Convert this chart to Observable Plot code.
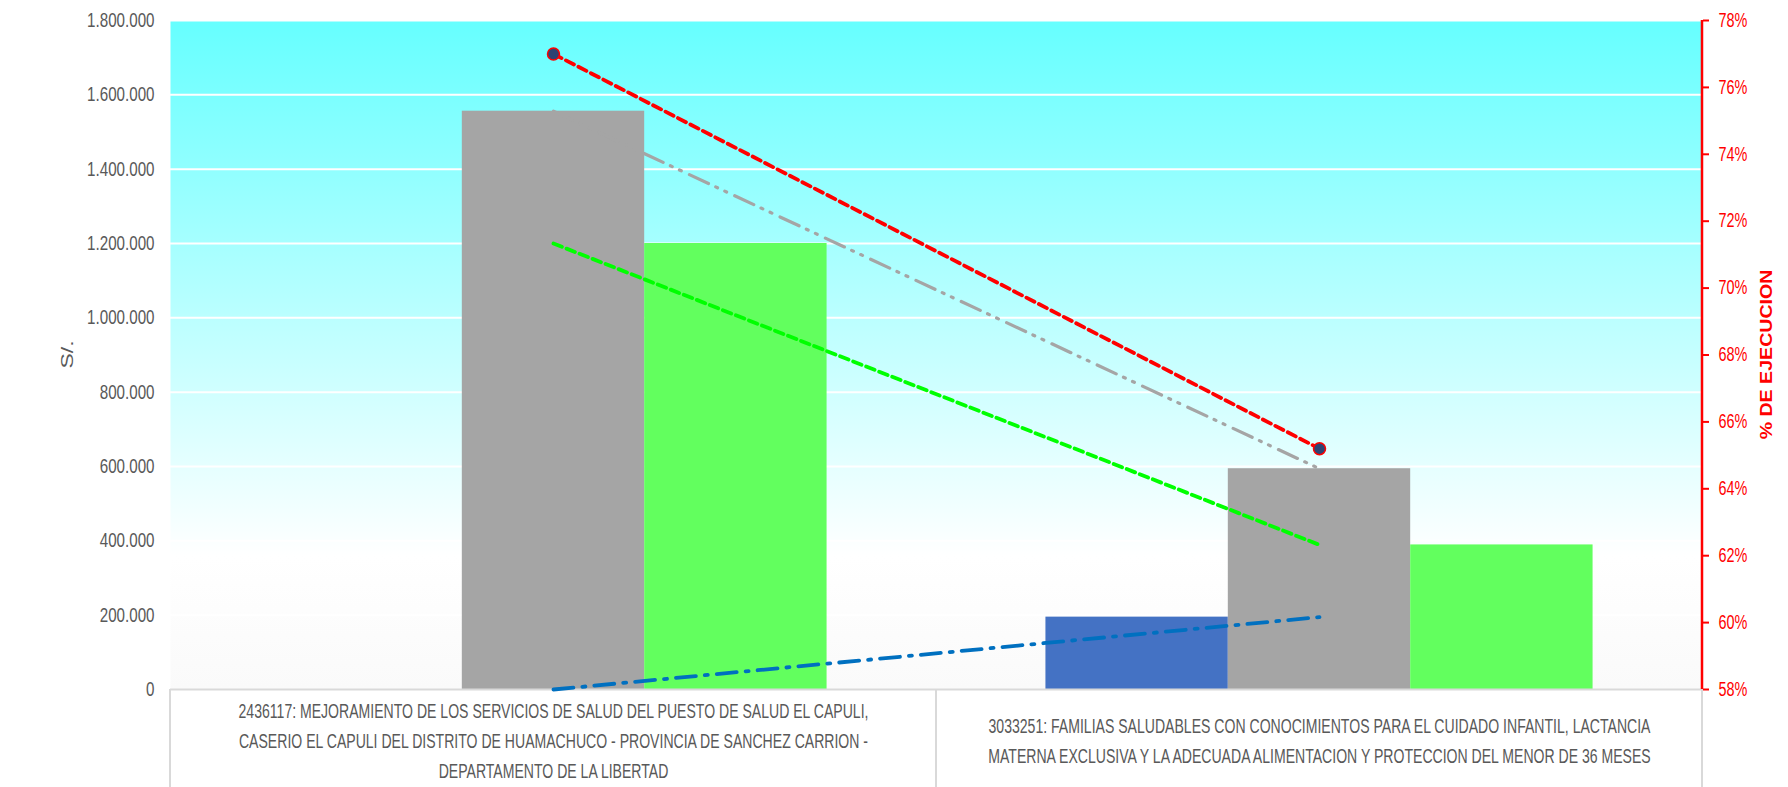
<!DOCTYPE html>
<html><head><meta charset="utf-8">
<script src="https://cdn.jsdelivr.net/npm/d3@7"></script>
<script src="https://cdn.jsdelivr.net/npm/@observablehq/plot@0.6"></script>
<style>
html,body{margin:0;padding:0;background:#fff;overflow:hidden}
svg{display:block}
</style></head><body><div id="chart"></div>
<script>
// ---- data ----
const categories = [
  "2436117: MEJORAMIENTO DE LOS SERVICIOS DE SALUD DEL PUESTO DE SALUD EL CAPULI,\nCASERIO EL CAPULI DEL DISTRITO DE HUAMACHUCO - PROVINCIA DE SANCHEZ CARRION -\nDEPARTAMENTO DE LA LIBERTAD",
  "3033251: FAMILIAS SALUDABLES CON CONOCIMIENTOS PARA EL CUIDADO INFANTIL, LACTANCIA\nMATERNA EXCLUSIVA Y LA ADECUADA ALIMENTACION Y PROTECCION DEL MENOR DE 36 MESES"
];
const series = ["PIA", "PIM", "DEVENGADO"];
const pia = [0, 194700];
const pim = [1556000, 594000];
const devengado = [1200000, 389000];
const avance = [77.0, 65.2];               // % de ejecucion
const yTicks = [0, 200000, 400000, 600000, 800000, 1000000, 1200000, 1400000, 1600000, 1800000];
const pctTicks = [58, 60, 62, 64, 66, 68, 70, 72, 74, 76, 78];
const leftTitle = "S/.";
const rightTitle = "% DE EJECUCION";

// ---- layout ----
const W = 1788, H = 787, ML = 170, MR = 86, MT = 20, MB = 98;
const yMax = yTicks[yTicks.length - 1];
const pctScale = d3.scaleLinear([pctTicks[0], pctTicks[pctTicks.length - 1]], [0, yMax]);
const rows = categories.map((c, i) => ({cat: c, pia: pia[i], pim: pim[i], dev: devengado[i], pct: avance[i]}));

const bw = (W - ML - MR) / categories.length;
const sub = d3.scaleBand(series, [0, bw]).paddingInner(0).paddingOuter(0.6);
const inset = s => ({insetLeft: sub(s), insetRight: bw - sub(s) - sub.bandwidth()});
const fmt = d3.formatLocale({decimal: ",", thousands: ".", grouping: [3], currency: ["", ""]}).format(",d");
const font = "'Liberation Sans', Arial, sans-serif";

const plot = Plot.plot({
  width: W, height: H,
  marginLeft: ML, marginRight: MR, marginTop: MT, marginBottom: MB,
  style: {fontFamily: font, background: "white", overflow: "visible"},
  x: {domain: categories, padding: 0, axis: null},
  y: {domain: [0, yMax], axis: null},
  marks: [
    Plot.frame({fill: "url(#bgGrad)", stroke: "none"}),
    Plot.gridY(yTicks.filter(d => d > 0), {stroke: "white", strokeOpacity: 1, strokeWidth: 2}),
    Plot.barY(rows, {x: "cat", y: "pia", fill: "#4472C4", ...inset("PIA")}),
    Plot.barY(rows, {x: "cat", y: "pim", fill: "#A5A5A5", ...inset("PIM")}),
    Plot.barY(rows, {x: "cat", y: "dev", fill: "#62FF5E", ...inset("DEVENGADO")}),
    Plot.ruleY([0], {stroke: "#d9d9d9", strokeWidth: 2}),
    Plot.lineY(rows, {x: "cat", y: "pim", stroke: "#A5A5A5", strokeWidth: 3.2, strokeDasharray: "21,8,2,8,2,9"}),
    Plot.lineY(rows, {x: "cat", y: "dev", stroke: "#00FF00", strokeWidth: 3.8, strokeDasharray: "9,5"}),
    Plot.lineY(rows, {x: "cat", y: "pia", stroke: "#0070C0", strokeWidth: 3.8, strokeDasharray: "20,9,3,9"}),
    Plot.lineY(rows, {x: "cat", y: d => pctScale(d.pct), stroke: "#FF0000", strokeWidth: 3.8, strokeDasharray: "9,5"}),
    Plot.dot(rows, {x: "cat", y: d => pctScale(d.pct), r: 6, fill: "#2E4372", stroke: "#FF0000", strokeWidth: 1.5}),
    Plot.axisY(yTicks, {anchor: "left", tickSize: 0, tickPadding: 16, tickFormat: fmt,
      fontSize: 20.5, fill: "#595959", label: null}),
    Plot.axisY(pctTicks.map(pctScale), {anchor: "right", tickSize: 6, tickPadding: 10,
      stroke: "#FF0000", fill: "#FF0000", strokeWidth: 2,
      tickFormat: v => Math.round(pctScale.invert(v)) + "%", fontSize: 19.5, label: null}),
    Plot.axisX({anchor: "bottom", tickSize: 0, tickPadding: 49, lineAnchor: "middle",
      lineHeight: 1.43, fontSize: 21, fill: "#595959", label: null})
  ]
});

// gradient background, box lines, axis line and titles
const svg = d3.select(plot);
const defs = svg.insert("defs", ":first-child");
const g = defs.append("linearGradient").attr("id", "bgGrad").attr("x1", 0).attr("y1", 0).attr("x2", 0).attr("y2", 1);
g.append("stop").attr("offset", "0").attr("stop-color", "#66FFFF");
g.append("stop").attr("offset", "0.8").attr("stop-color", "#FFFFFF");
g.append("stop").attr("offset", "1").attr("stop-color", "#FAFAFA");

// condensed look of the reference text (horizontal squeeze of each label)
svg.selectAll('g[aria-label="x-axis tick label"] text').each(function () {
  const t = d3.select(this); t.attr("transform", (t.attr("transform") || "") + " scale(0.67,1)");
});
svg.selectAll('g[aria-label="y-axis tick label"] text').each(function () {
  const t = d3.select(this); t.attr("transform", (t.attr("transform") || "") + " scale(0.74,1)");
});

const xs = plot.scale("x");
const edges = [...categories.map(c => xs.apply(c)), xs.apply(categories[categories.length - 1]) + xs.bandwidth];
svg.append("g").selectAll("line").data(edges).join("line")
  .attr("x1", d => d).attr("x2", d => d).attr("y1", H - MB).attr("y2", H)
  .attr("stroke", "#d9d9d9").attr("stroke-width", 2);

svg.append("line").attr("x1", W - MR).attr("x2", W - MR).attr("y1", MT).attr("y2", H - MB)
  .attr("stroke", "#FF0000").attr("stroke-width", 2.5);

const cy = (MT + H - MB) / 2;
svg.append("text").text(leftTitle)
  .attr("transform", `translate(67,${cy}) rotate(-90) scale(1,0.72)`)
  .attr("text-anchor", "middle").attr("dy", "0.35em")
  .attr("font-family", font).attr("font-size", 23).attr("fill", "#595959");
svg.append("text").text(rightTitle)
  .attr("transform", `translate(1766,${cy}) rotate(-90) scale(1,0.85)`)
  .attr("text-anchor", "middle").attr("dy", "0.35em")
  .attr("font-family", font).attr("font-weight", "bold")
  .attr("font-size", 19.6).attr("fill", "#FF0000");

document.getElementById("chart").append(plot);
</script>
</body></html>
